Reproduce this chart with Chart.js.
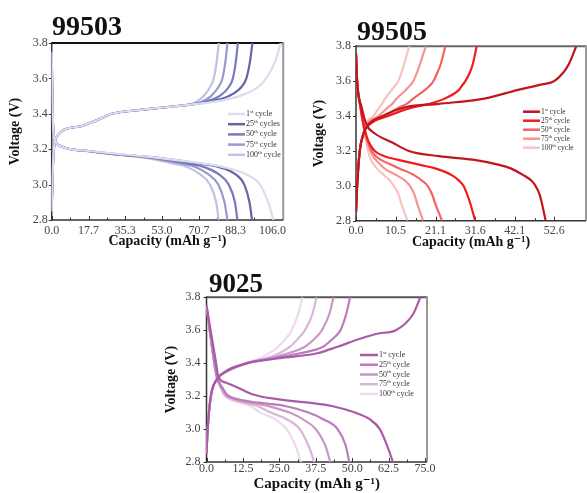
<!DOCTYPE html>
<html><head><meta charset="utf-8">
<script src="https://cdn.jsdelivr.net/npm/chart.js@4.4.0/dist/chart.umd.min.js"></script>
<style>
html,body{margin:0;padding:0;background:#fff;}
body{width:587px;height:493px;position:relative;overflow:hidden;}
.panel{position:absolute;}
canvas{display:block;}
</style></head><body>
<div class="panel" style="left:0;top:0;"><canvas id="c1" width="290" height="255"></canvas></div>
<div class="panel" style="left:290px;top:0;"><canvas id="c2" width="297" height="255"></canvas></div>
<div class="panel" style="left:150px;top:260px;"><canvas id="c3" width="290" height="233"></canvas></div>
<script>
// ---------- shared ----------
const yTicks = [2.8, 3.0, 3.2, 3.4, 3.6, 3.8];
const labelsA = ['1st cycle', '25th cycles', '50th cycle', '75th cycle', '100th cycle'];
const labelsBC = ['1st cycle', '25th cycle', '50th cycle', '75th cycle', '100th cycle'];

// ---------- 99503 ----------
const aXTicks = [0, 17.7, 35.3, 53.0, 70.7, 88.3, 106.0];
const aChargeV = [2.85, 3.0, 3.2, 3.28, 3.31, 3.33, 3.36, 3.40, 3.42, 3.44, 3.46, 3.48, 3.50, 3.55, 3.60, 3.70, 3.80];
const aChargeQ1   = [0, 0.3, 1.0, 3, 6, 14, 21, 29, 41, 57, 73, 84, 90, 99, 103, 107.5, 110];
const aChargeQ25  = [0, 0.3, 1.0, 3, 6, 14, 21, 29, 41, 57, 72, 80, 85, 91, 93.5, 95.3, 96.4];
const aChargeQ50  = [0, 0.3, 1.0, 3, 6, 14, 21, 29, 41, 57, 71, 77, 80.5, 85, 87, 88.5, 89.4];
const aChargeQ75  = [0, 0.3, 1.0, 3, 6, 14, 21, 29, 41, 57, 70, 74, 76.5, 80, 82, 83.5, 84.4];
const aChargeQ100 = [0, 0.3, 1.0, 3, 6, 14, 21, 29, 41, 57, 68, 71, 73, 76, 77.8, 79.3, 80.2];
const aDisV = [3.75, 3.5, 3.3, 3.24, 3.21, 3.19, 3.17, 3.15, 3.12, 3.10, 3.06, 3.0, 2.9, 2.8];
const aDisQ1   = [0, 0.3, 0.8, 2, 6, 18, 35, 52, 72, 82, 93, 100, 104, 106.5];
const aDisQ25  = [0, 0.3, 0.8, 2, 6, 18, 33, 52, 70, 80, 88, 92.5, 95, 96.2];
const aDisQ50  = [0, 0.3, 0.8, 2, 6, 17, 32, 50, 65, 73, 80, 85, 88, 89.2];
const aDisQ75  = [0, 0.3, 0.8, 2, 6, 17, 31, 48, 62, 69, 75, 80, 83, 84.4];
const aDisQ100 = [0, 0.3, 0.8, 2, 6, 16, 30, 46, 58, 65, 71, 76, 79, 80.2];

// ---------- 99505 ----------
const bXTicks = [0, 10.5, 21.1, 31.6, 42.1, 52.6];
const bChargeV = [2.85, 3.0, 3.2, 3.3, 3.35, 3.4, 3.45, 3.47, 3.5, 3.55, 3.58, 3.6, 3.65, 3.7, 3.8];
const bChargeQ1   = [0, 0.3, 1.0, 2.0, 3.2, 7, 13, 22, 34, 43, 49, 52.5, 55, 56.5, 58.4];
const bChargeQ25  = [0, 0.3, 1.0, 2.0, 3.5, 8.5, 15, 19.5, 23.5, 27.3, 28.3, 29, 30.2, 31, 32.0];
const bChargeQ50  = [0, 0.3, 1.0, 2.0, 3.2, 7.5, 11.5, 13.4, 15.2, 18.3, 19.8, 20.5, 21.6, 22.5, 23.7];
const bChargeQ75  = [0, 0.3, 1.0, 2.0, 2.8, 5.9, 8.5, 9.6, 10.8, 13.2, 14.5, 15.2, 16.2, 17, 18.5];
const bChargeQ100 = [0, 0.3, 1.0, 2.0, 2.5, 4.6, 6.2, 6.9, 7.7, 9.5, 10.6, 11.2, 12.1, 12.8, 14.1];
const bDisV = [3.76, 3.6, 3.45, 3.35, 3.3, 3.25, 3.2, 3.17, 3.15, 3.12, 3.1, 3.06, 3.03, 3.0, 2.95, 2.9, 2.8];
const bDisQ1   = [0, 0.3, 1.5, 2.8, 5, 9.5, 14, 22, 31, 38, 41, 44.5, 46.5, 47.6, 48.7, 49.3, 50.3];
const bDisQ25  = [0, 0.3, 1.2, 2.0, 2.6, 3.4, 5, 7.5, 11, 17, 21, 25.5, 27.3, 28.5, 29.5, 30.3, 31.6];
const bDisQ50  = [0, 0.3, 1.2, 2.0, 2.5, 3.2, 4.2, 5.3, 6.5, 9.5, 11.5, 15.5, 17.5, 19, 20.2, 21, 22.8];
const bDisQ75  = [0, 0.3, 1.2, 2.0, 2.4, 3.0, 3.8, 4.5, 5.2, 6.5, 7.5, 10.8, 13, 14.3, 15.5, 16.2, 17.8];
const bDisQ100 = [0, 0.3, 1.2, 1.9, 2.2, 2.7, 3.2, 3.6, 3.9, 4.8, 5.5, 7.5, 9, 10, 11.3, 12, 13.6];

// ---------- 9025 ----------
const cXTicks = [0, 12.5, 25.0, 37.5, 50.0, 62.5, 75.0];
const cChargeV = [2.85, 3.0, 3.2, 3.3, 3.35, 3.4, 3.43, 3.46, 3.5, 3.55, 3.58, 3.6, 3.7, 3.8];
const cChargeQ1   = [0, 0.4, 1.5, 3.5, 6.5, 14, 25, 38, 45, 53, 59, 65, 71, 73.4];
const cChargeQ25  = [0, 0.4, 1.5, 3.5, 7, 14, 23, 32, 40, 43.5, 45.2, 46, 48, 49.3];
const cChargeQ50  = [0, 0.4, 1.5, 3.5, 7, 14, 22, 28, 33.8, 37.2, 38.8, 39.6, 42.2, 43.6];
const cChargeQ75  = [0, 0.4, 1.5, 3.5, 7, 13.5, 20.5, 25, 28.7, 31.5, 33, 33.8, 36.4, 37.8];
const cChargeQ100 = [0, 0.4, 1.5, 3.5, 6.5, 13, 18.5, 21.5, 24.7, 27.2, 28.6, 29.2, 31.5, 32.9];
const cDisV = [3.75, 3.6, 3.4, 3.32, 3.28, 3.25, 3.21, 3.18, 3.16, 3.14, 3.1, 3.06, 3.0, 2.9, 2.8];
const cDisQ1   = [0, 1.4, 3.3, 4, 7, 11, 16, 25, 35, 43, 51, 56, 59.5, 62, 64];
const cDisQ25  = [0, 1.1, 2.7, 3.6, 4.5, 5.5, 7, 11, 18, 27, 35, 40, 45, 47.8, 49];
const cDisQ50  = [0, 1.1, 2.7, 3.5, 4.3, 5.2, 6.5, 10, 15.5, 21, 28.5, 33, 37.5, 40.8, 42.5];
const cDisQ75  = [0, 1.1, 2.7, 3.4, 4.1, 5.0, 6.2, 9, 13, 17.5, 22, 27.5, 32, 35, 37];
const cDisQ100 = [0, 1.1, 2.7, 3.3, 4.0, 4.8, 5.8, 8, 11.5, 15, 18.5, 23.5, 27.5, 30.5, 32.5];

const colorsA = ['#dcdcf0', '#6464a8', '#7a7abc', '#9a9acd', '#c2c2e3'];
const colorsB = ['#c0161e', '#f01c1c', '#f26464', '#f59494', '#f9c2c2'];
const colorsC = ['#a85ca8', '#bb7dbb', '#c997c9', '#dab5da', '#ecdbec'];

const SERIF = '"Liberation Serif", "Times New Roman", "DejaVu Serif", serif';
Chart.defaults.font.family = SERIF;

function pts(qs, vs) { return vs.map((v, k) => ({ x: qs[k], y: v })); }

const deco = {
  id: 'deco',
  beforeDatasetsDraw(chart, args, o) {
    const { ctx, chartArea: a, scales } = chart;
    const x = scales.x, y = scales.y;
    ctx.save();
    ctx.strokeStyle = '#333'; ctx.lineWidth = 1;
    ctx.beginPath();
    const xt = x.ticks.map(t => t.value);
    xt.forEach((v, i) => {
      const px = Math.round(x.getPixelForValue(v)) + 0.5;
      ctx.moveTo(px, a.bottom); ctx.lineTo(px, a.bottom - 4);
      if (i < xt.length - 1) {
        const pm = Math.round(x.getPixelForValue((v + xt[i + 1]) / 2)) + 0.5;
        ctx.moveTo(pm, a.bottom); ctx.lineTo(pm, a.bottom - 2.5);
      }
    });
    y.ticks.forEach(t => {
      const py = Math.round(y.getPixelForValue(t.value)) + 0.5;
      ctx.moveTo(a.left, py); ctx.lineTo(a.left - 3, py);
    });
    ctx.stroke();
    const ln = (x1, y1, x2, y2, c, w) => { ctx.strokeStyle = c; ctx.lineWidth = w; ctx.beginPath(); ctx.moveTo(x1, y1); ctx.lineTo(x2, y2); ctx.stroke(); };
    ln(a.left, a.top, a.right, a.top, o.topColor, 2);
    ln(a.right, a.top - 1, a.right, a.bottom, o.rightColor, 2);
    ln(a.left - 0.5, a.bottom, a.right, a.bottom, '#333', 1.5);
    ln(a.left, a.top - 1, a.left, a.bottom + 0.5, '#333', 1.5);
    ctx.restore();
  },
  afterDraw(chart, args, o) {
    const ctx = chart.ctx;
    ctx.save();
    ctx.fillStyle = '#111';
    ctx.textAlign = 'left';
    ctx.textBaseline = 'alphabetic';
    ctx.font = `bold ${o.titleSize}px ${SERIF}`;
    ctx.fillText(o.title, o.titleX, o.titleY);
    // legend
    o.labels.forEach((lab, i) => {
      const yy = o.legY + i * o.legStep;
      ctx.strokeStyle = o.colors[i]; ctx.lineWidth = 2.5;
      ctx.beginPath(); ctx.moveTo(o.legX, yy); ctx.lineTo(o.legX + o.legLen, yy); ctx.stroke();
      const m = lab.match(/^(\d+)(st|nd|rd|th)(.*)$/);
      let tx = o.legX + o.legLen + 1;
      ctx.fillStyle = '#333'; ctx.textBaseline = 'middle';
      ctx.font = `${o.legFont}px ${SERIF}`;
      ctx.fillText(m[1], tx, yy); tx += ctx.measureText(m[1]).width;
      ctx.font = `${o.legFont * 0.62}px ${SERIF}`;
      ctx.fillText(m[2], tx, yy - o.legFont * 0.3); tx += ctx.measureText(m[2]).width;
      ctx.font = `${o.legFont}px ${SERIF}`;
      ctx.fillText(m[3], tx, yy);
    });
    ctx.restore();
  }
};

function makeChart(id, p) {
  const datasets = [];
  p.curves.forEach((c, i) => {
    [pts(c[0], p.chargeV), pts(c[1], p.disV)].forEach(d => datasets.push({
      data: d, borderColor: p.colors[i], borderWidth: 2.2, pointRadius: 0,
      cubicInterpolationMode: 'monotone', fill: false
    }));
  });
  return new Chart(document.getElementById(id), {
    type: 'line',
    data: { datasets },
    plugins: [deco],
    options: {
      responsive: false, animation: false, events: [],
      layout: { padding: p.padding },
      plugins: {
        legend: { display: false }, tooltip: { enabled: false },
        deco: {
          title: p.title, titleX: p.titleX, titleY: p.titleY, titleSize: p.titleSize,
          labels: p.labels, colors: p.colors, legX: p.legX, legY: p.legY, legStep: p.legStep,
          legLen: p.legLen, legFont: p.legFont, topColor: p.topColor, rightColor: p.rightColor
        }
      },
      scales: {
        x: {
          type: 'linear', min: 0, max: p.xMax,
          afterFit: s => { s.height = p.xH; },
          afterBuildTicks: s => { s.ticks = p.xTicks.map(v => ({ value: v })); },
          grid: { display: false, drawTicks: false }, border: { display: false },
          ticks: { padding: p.xPad, color: '#444', font: { size: 12 }, maxRotation: 0, autoSkip: false,
                   callback: v => Number(v).toFixed(1) },
          title: { display: true, text: 'Capacity (mAh g\u207B\u00B9)', color: '#111',
                   font: { size: p.xTitleSize, weight: 'bold' }, padding: { top: 0, bottom: p.xTitlePad } }
        },
        y: {
          type: 'linear', min: 2.8, max: 3.8,
          afterFit: s => { s.width = p.yW; },
          afterBuildTicks: s => { s.ticks = yTicks.map(v => ({ value: v })); },
          grid: { display: false, drawTicks: false }, border: { display: false },
          ticks: { padding: p.yPad, color: '#444', font: { size: 12 }, callback: v => Number(v).toFixed(1) },
          title: { display: true, text: 'Voltage (V)', color: '#111',
                   font: { size: 14, weight: 'bold' }, padding: { top: p.yTitlePad, bottom: 0 } }
        }
      }
    }
  });
}

makeChart('c1', {
  chargeV: aChargeV, disV: aDisV,
  curves: [[aChargeQ1, aDisQ1], [aChargeQ25, aDisQ25], [aChargeQ50, aDisQ50], [aChargeQ75, aDisQ75], [aChargeQ100, aDisQ100]],
  colors: colorsA, labels: labelsA, xTicks: aXTicks, xMax: 111.2,
  padding: { top: 43, right: 2, bottom: 0, left: 0 }, yW: 51.7, xH: 35,
  xPad: 4, yPad: 4, xTitlePad: 5.6, yTitlePad: 6.6, xTitleSize: 14,
  title: '99503', titleX: 52, titleY: 35, titleSize: 28,
  legX: 228, legY: 114, legStep: 10.2, legLen: 17, legFont: 8,
  topColor: '#111', rightColor: '#999'
});
makeChart('c2', {
  chargeV: bChargeV, disV: bDisV,
  curves: [[bChargeQ1, bDisQ1], [bChargeQ25, bDisQ25], [bChargeQ50, bDisQ50], [bChargeQ75, bDisQ75], [bChargeQ100, bDisQ100]],
  colors: colorsB, labels: labelsBC, xTicks: bXTicks, xMax: 61,
  padding: { top: 46.3, right: 1, bottom: 0, left: 0 }, yW: 66, xH: 34.3,
  xPad: 3, yPad: 5, xTitlePad: 4.6, yTitlePad: 20.6, xTitleSize: 14,
  title: '99505', titleX: 67, titleY: 40, titleSize: 28,
  legX: 233, legY: 111.7, legStep: 9, legLen: 17, legFont: 7.5,
  topColor: '#666', rightColor: '#999'
});
makeChart('c3', {
  chargeV: cChargeV, disV: cDisV,
  curves: [[cChargeQ1, cDisQ1], [cChargeQ25, cDisQ25], [cChargeQ50, cDisQ50], [cChargeQ75, cDisQ75], [cChargeQ100, cDisQ100]],
  colors: colorsC, labels: labelsBC, xTicks: cXTicks, xMax: 75.7,
  padding: { top: 37.3, right: 13, bottom: 0, left: 0 }, yW: 56.5, xH: 31,
  xPad: 0, yPad: 6, xTitlePad: 0, yTitlePad: 12.6, xTitleSize: 15,
  title: '9025', titleX: 59, titleY: 32, titleSize: 27,
  legX: 210, legY: 95, legStep: 9.75, legLen: 18, legFont: 8,
  topColor: '#555', rightColor: '#999'
});
</script>
</body></html>
